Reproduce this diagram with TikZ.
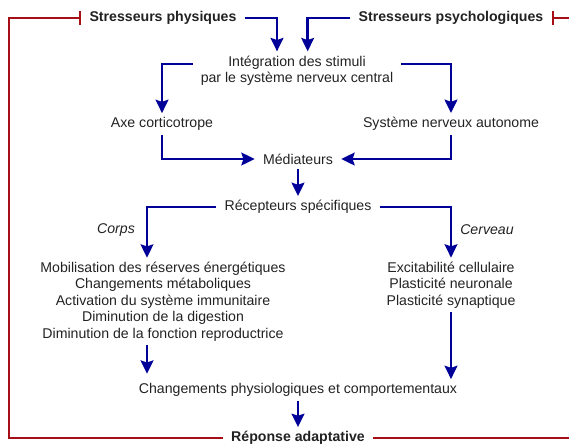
\documentclass[tikz,border=0pt]{standalone}
\usepackage{fontspec}
\setmainfont{Liberation Sans}
\usepackage{tikz}
\usetikzlibrary{arrows.meta,positioning,calc}
\definecolor{darkblue}{HTML}{000099}
\definecolor{darkred}{HTML}{A50F15}
\definecolor{txtgray}{HTML}{222222}

\begin{document}
\begin{tikzpicture}[x=0.75pt,y=-0.75pt,
    txt/.style={text=txtgray,font=\fontsize{10.6}{12.3}\selectfont,inner xsep=6pt,inner ysep=3pt,align=center,yshift=-1.5pt},
    bold/.style={txt,font=\fontsize{10.6}{12.3}\selectfont\bfseries},
    side/.style={txt,font=\fontsize{10.6}{12.3}\selectfont\itshape},
    flow/.style={darkblue,line width=2pt,-{Stealth[length=10pt,width=9.5pt,inset=1.5pt]}},
    feedback/.style={darkred,line width=2pt}]
  \useasboundingbox (0,0) rectangle (569,444);

  % Stresseurs
  \node[bold] (phys) at (163,16) {Stresseurs physiques};
  \node[bold] (psych) at (451,16) {Stresseurs psychologiques};

  % Integration centrale
  \node[txt] (integ) at (297,68.5) {Intégration des stimuli\\par le système nerveux central};
  \draw[flow] (phys.east) -| ([xshift=-15]integ.north);
  \draw[flow] (psych.west) -| ([xshift=8]integ.north);

  % Deux voies
  \node[txt] (axe) at (162,122) {Axe corticotrope};
  \node[txt] (sna) at (451,122) {Système nerveux autonome};
  \draw[flow] ([yshift=5pt]integ.west) -| (axe.north);
  \draw[flow] ([yshift=5pt]integ.east) -| (sna.north);

  % Mediateurs
  \node[txt] (med) at (298,157) {Médiateurs};
  \draw[flow] (axe.south) |- (med.west);
  \draw[flow] (sna.south) |- (med.east);

  % Recepteurs
  \node[txt] (rec) at (298,205) {Récepteurs spécifiques};
  \draw[flow] (med.south) -- (rec.north);

  % Corps / Cerveau
  \node[txt] (body) at (163,299.5) {Mobilisation des réserves énergétiques\\Changements métaboliques\\Activation du système immunitaire\\Diminution de la digestion\\Diminution de la fonction reproductrice};
  \node[txt] (brain) at (451,283) {Excitabilité cellulaire\\Plasticité neuronale\\Plasticité synaptique};
  \node[side] (corps) at (116,228) {Corps};
  \node[side] (cerv) at (487,228) {Cerveau};
  \draw[flow] (rec.west) -| ([xshift=-12]body.north);
  \draw[flow] (rec.east) -| (brain.north);

  % Changements
  \node[txt] (chg) at (298,388) {Changements physiologiques et comportementaux};
  \draw[flow,shorten >=4pt] ([xshift=-12]body.south) -- ([xshift=-12]body.south |- chg.north);
  \draw[flow] (brain.south) -- (brain.south |- chg.north);

  % Reponse
  \node[bold] (rep) at (298,436) {Réponse adaptative};
  \draw[flow] (chg.south) -- (rep.north);

  % Retroaction
  \coordinate (edgeL) at (9,0);
  \coordinate (edgeR) at (569,0);
  \draw[feedback,-{Bar[width=10pt]}] (rep.west) -- (rep.west -| edgeL) -- (phys.west -| edgeL) -- (phys.west);
  \draw[feedback] (rep.east) -- (rep.east -| edgeR);
  \draw[feedback,-{Bar[width=10pt]}] (psych.east -| edgeR) -- (psych.east);
\end{tikzpicture}
\end{document}
